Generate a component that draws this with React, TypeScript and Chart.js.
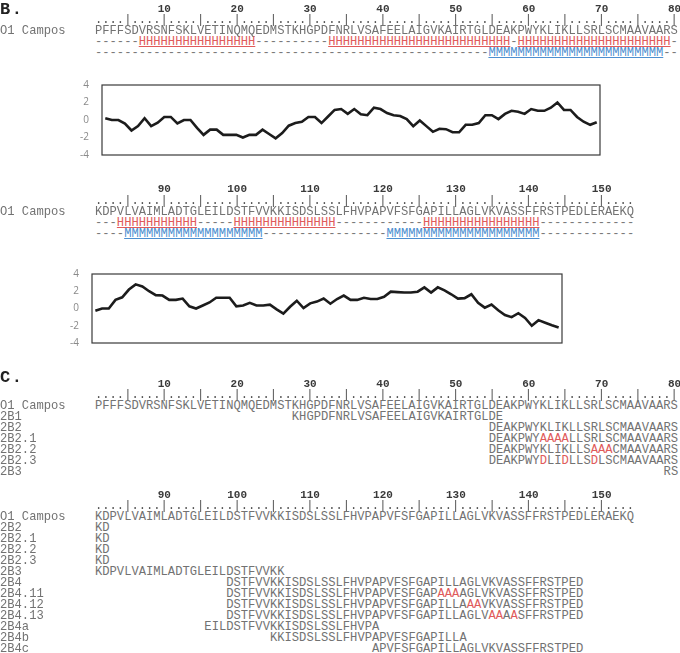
import React, { useEffect, useRef } from "react";
import { Chart, registerables } from "chart.js";
Chart.register(...registerables);

// ---------- data ----------
const SEQ1 = "PFFFSDVRSNFSKLVETINQMQEDMSTKHGPDFNRLVSAFEELAIGVKAIRTGLDEAKPWYKLIKLLSRLSCMAAVAARS";
const SEQ2 = "KDPVLVAIMLADTGLEILDSTFVVKKISDSLSSLFHVPAPVFSFGAPILLAGLVKVASSFFRSTPEDLERAEKQ";
const SEQ1_START = 1;
const SEQ2_START = 81;
const NUMS1 = [10, 20, 30, 40, 50, 60, 70, 80];
const NUMS2 = [90, 100, 110, 120, 130, 140, 150];

const HELIX1_RUNS: [string, number][] = [["-", 6], ["H", 16], ["-", 10], ["H", 25], ["-", 1], ["H", 21], ["-", 1]];
const MEMB1_RUNS: [string, number][] = [["-", 54], ["M", 24], ["-", 2]];
const HELIX2_RUNS: [string, number][] = [["-", 3], ["H", 11], ["-", 5], ["H", 14], ["-", 12], ["H", 16], ["-", 13]];
const MEMB2_RUNS: [string, number][] = [["-", 4], ["M", 19], ["-", 17], ["M", 21], ["-", 13]];

const HYDRO1 = [
  0.2, 0, 0, -0.4, -1.2, -0.7, 0.2, -0.7, -0.3, 0.35,
  0.35, -0.4, 0, 0, -0.9, -1.7, -1.1, -1.1, -1.7, -1.7,
  -1.7, -2.0, -1.7, -1.7, -1.1, -1.6, -2.1, -1.5, -0.65, -0.35,
  -0.2, 0.35, 0.35, -0.35, 0.4, 1.15, 1.25, 0.7, 1.25, 0.65,
  0.55, 1.4, 1.25, 0.8, 0.55, 0.45, 0.1, -0.7, -0.05, -0.7,
  -1.35, -1.0, -1.05, -1.4, -1.4, -0.55, -0.55, -0.35, 0.55, 0.55,
  0.1, 0.7, 1.05, 0.95, 0.7, 1.25, 1.05, 1.05, 1.4, 2.0,
  1.15, 1.15, 0.35, -0.2, -0.55, -0.25,
];
const HYDRO2 = [
  -0.25, 0, 0, 1.0, 1.3, 2.2, 2.8, 2.55, 2.0, 1.55,
  1.5, 1.0, 1.0, 1.15, 0.25, 0, 0.35, 0.7, 1.25, 1.25,
  1.25, 0.25, 0.35, 0.65, 0.35, 0.35, 0.45, -0.1, -0.6, 0.2,
  0.9, 0.05, 0.6, 0.8, 1.15, 0.55, 1.1, 1.5, 1.0, 1.0,
  1.25, 1.1, 1.1, 1.35, 1.95, 1.9, 1.85, 1.85, 1.95, 2.45,
  1.85, 2.45, 2.1, 1.65, 1.15, 1.2, 1.65, 0.65, 0.1, 0.45,
  -0.2, -0.75, -1.0, -0.55, -1.1, -2.0, -1.35, -1.65, -1.95, -2.2,
];
const Y_MIN = -4;
const Y_MAX = 4;
const Y_STEP = 2;

const C1_NAMES = ["O1 Campos", "2B1", "2B2", "2B2.1", "2B2.2", "2B2.3", "2B3"];
const C1_STARTS = [1, 28, 55, 55, 55, 55, 79];
const C1_SEQS = [
  SEQ1,
  "KHGPDFNRLVSAFEELAIGVKAIRTGLDE",
  "DEAKPWYKLIKLLSRLSCMAAVAARS",
  "DEAKPWYAAAALLSRLSCMAAVAARS",
  "DEAKPWYKLIKLLSAAACMAAVAARS",
  "DEAKPWYDLIDLLSDLSCMAAVAARS",
  "RS",
];
const C1_RED: number[][] = [[], [], [], [7, 8, 9, 10], [14, 15, 16], [7, 10, 14], []];

const C2_NAMES = ["O1 Campos", "2B2", "2B2.1", "2B2.2", "2B2.3", "2B3", "2B4", "2B4.11", "2B4.12", "2B4.13", "2B4a", "2B4b", "2B4c"];
const C2_STARTS = [81, 81, 81, 81, 81, 81, 99, 99, 99, 99, 96, 105, 119];
const C2_SEQS = [
  SEQ2,
  "KD",
  "KD",
  "KD",
  "KD",
  "KDPVLVAIMLADTGLEILDSTFVVKK",
  "DSTFVVKKISDSLSSLFHVPAPVFSFGAPILLAGLVKVASSFFRSTPED",
  "DSTFVVKKISDSLSSLFHVPAPVFSFGAPAAAAGLVKVASSFFRSTPED",
  "DSTFVVKKISDSLSSLFHVPAPVFSFGAPILLAAAVKVASSFFRSTPED",
  "DSTFVVKKISDSLSSLFHVPAPVFSFGAPILLAGLVAAAASFFRSTPED",
  "EILDSTFVVKKISDSLSSLFHVPA",
  "KKISDSLSSLFHVPAPVFSFGAPILLA",
  "APVFSFGAPILLAGLVKVASSFFRSTPED",
];
const C2_RED: number[][] = [[], [], [], [], [], [], [], [29, 30, 31], [33, 34], [36, 37, 39], [], [], []];

// ---------- layout ----------
const CW = 7.29;
const FS = CW / 0.6;
const SEQ_X = 95;
const DY = 1;
const MONO = '"Liberation Mono", "DejaVu Sans Mono", monospace';
const GREY = "#727272";
const RED = "#e05a5a";
const BLUE = "#4d8fd0";
const GRAY_ONLY = { filter: "grayscale(1)" };

function Row({ x, y, children, style }: any) {
  return (
    <div
      style={{
        position: "absolute",
        left: x,
        top: y - 6.5 + DY,
        lineHeight: "13px",
        whiteSpace: "pre",
        fontFamily: MONO,
        fontSize: FS,
        color: GREY,
        ...style,
      }}
    >
      {children}
    </div>
  );
}

function Numbers({ y, nums, first }: { y: number; nums: number[]; first: number }) {
  return (
    <>
      {nums.map((n) => {
        const cx = SEQ_X + (n - first + 0.5) * CW;
        return (
          <div
            key={n}
            style={{
              position: "absolute",
              left: cx - 20,
              width: 40,
              top: y - 6.5 + DY,
              lineHeight: "13px",
              textAlign: "center",
              fontFamily: MONO,
              fontWeight: "bold",
              fontSize: 11,
              color: "#3a3a3a",
              ...GRAY_ONLY,
            }}
          >
            {n}
          </div>
        );
      })}
    </>
  );
}

function Ruler({ y, len }: { y: number; len: number }) {
  let s = "";
  for (let i = 1; i <= len; i++) s += i % 5 === 0 ? "|" : ".";
  return <Row x={SEQ_X} y={y} style={{ color: "#555", ...GRAY_ONLY }}>{s}</Row>;
}

function Runs({ y, runs }: { y: number; runs: [string, number][] }) {
  return (
    <Row x={SEQ_X} y={y}>
      {runs.map(([c, n], i) => {
        const txt = c.repeat(n);
        if (c === "H") return <span key={i} style={{ color: RED, textDecoration: "underline" }}>{txt}</span>;
        if (c === "M") return <span key={i} style={{ color: BLUE, textDecoration: "underline" }}>{txt}</span>;
        return <span key={i} style={{ color: "#7a7a7a" }}>{txt}</span>;
      })}
    </Row>
  );
}

function SeqText({ seq, red }: { seq: string; red: number[] }) {
  const parts: any[] = [];
  let i = 0;
  while (i < seq.length) {
    const isRed = red.includes(i);
    let j = i;
    while (j < seq.length && red.includes(j) === isRed) j++;
    parts.push(
      <span key={i} style={{ color: isRed ? RED : GREY }}>{seq.slice(i, j)}</span>
    );
    i = j;
  }
  return <>{parts}</>;
}

function Label({ y, text }: { y: number; text: string }) {
  return <Row x={0} y={y} style={GRAY_ONLY}>{text}</Row>;
}

function Header({ y, text }: { y: number; text: string }) {
  return (
    <div
      style={{
        position: "absolute",
        left: 0,
        top: y - 9,
        lineHeight: "18px",
        fontFamily: MONO,
        fontWeight: "bold",
        fontSize: 17,
        letterSpacing: 1.5,
        color: "#222",
        ...GRAY_ONLY,
      }}
    >
      {text}
    </div>
  );
}

const boxPlugin = {
  id: "plotBox",
  beforeDatasetsDraw(chart: any) {
    const { ctx, chartArea } = chart;
    ctx.save();
    ctx.strokeStyle = "#3a3a3a";
    ctx.lineWidth = 1.2;
    ctx.strokeRect(chartArea.left, chartArea.top, chartArea.right - chartArea.left, chartArea.bottom - chartArea.top);
    ctx.restore();
  },
};

function HydroChart({ values, x0, y0, x1, y1 }: { values: number[]; x0: number; y0: number; x1: number; y1: number }) {
  const ref = useRef<HTMLCanvasElement>(null);
  const AXW = 22, PT = 8, PB = 9, PR = 5;
  const left = x0 - AXW;
  const top = y0 - PT;
  const w = x1 - x0 + AXW + PR;
  const h = y1 - y0 + PT + PB;
  useEffect(() => {
    const chart = new Chart(ref.current as HTMLCanvasElement, {
      type: "line",
      data: {
        labels: values.map((_, i) => String(i + 1)),
        datasets: [
          {
            data: values,
            borderColor: "#1c1c1c",
            borderWidth: 2.6,
            pointRadius: 0,
            tension: 0,
            fill: false,
          },
        ],
      },
      options: {
        animation: false,
        responsive: false,
        maintainAspectRatio: false,
        layout: { padding: { top: PT, bottom: PB, right: PR, left: 0 } },
        plugins: { legend: { display: false }, tooltip: { enabled: false } },
        scales: {
          x: { type: "category", display: false, offset: true },
          y: {
            min: Y_MIN,
            max: Y_MAX,
            ticks: {
              stepSize: Y_STEP,
              color: "#8a8a8a",
              padding: 5,
              font: { family: '"Open Sans", sans-serif', size: 10 },
            },
            grid: { display: false },
            border: { display: false },
            afterFit: (s: any) => {
              s.width = AXW;
            },
          },
        },
      },
      plugins: [boxPlugin],
    } as any);
    return () => chart.destroy();
  }, []);
  return (
    <canvas
      ref={ref}
      width={w}
      height={h}
      style={{ position: "absolute", left, top, width: w, height: h }}
    />
  );
}

export default function App() {
  const c1y = 405;
  const c1step = 11.05;
  const c2y = 516;
  const c2step = 11.08;
  return (
    <div style={{ position: "absolute", left: 0, top: 0, width: 680, height: 653, overflow: "hidden", background: "#fff" }}>
      {/* B */}
      <Header y={9.5} text="B." />
      <Numbers y={8} nums={NUMS1} first={SEQ1_START} />
      <Ruler y={19} len={SEQ1.length} />
      <Label y={30} text="O1 Campos" />
      <Row x={SEQ_X} y={30} style={GRAY_ONLY}>{SEQ1}</Row>
      <Runs y={41} runs={HELIX1_RUNS} />
      <Runs y={52} runs={MEMB1_RUNS} />
      <HydroChart values={HYDRO1} x0={102} y0={82} x1={600} y1={157} />

      <Numbers y={188} nums={NUMS2} first={SEQ2_START} />
      <Ruler y={200} len={SEQ2.length} />
      <Label y={211} text="O1 Campos" />
      <Row x={SEQ_X} y={211} style={GRAY_ONLY}>{SEQ2}</Row>
      <Runs y={222} runs={HELIX2_RUNS} />
      <Runs y={233} runs={MEMB2_RUNS} />
      <HydroChart values={HYDRO2} x0={92} y0={271} x1={562} y1={345} />

      {/* C */}
      <Header y={378} text="C." />
      <Numbers y={383} nums={NUMS1} first={SEQ1_START} />
      <Ruler y={394} len={SEQ1.length} />
      {C1_NAMES.map((n, i) => (
        <React.Fragment key={"c1" + i}>
          <Label y={c1y + i * c1step} text={n} />
          <Row x={SEQ_X + (C1_STARTS[i] - SEQ1_START) * CW} y={c1y + i * c1step}>
            <SeqText seq={C1_SEQS[i]} red={C1_RED[i]} />
          </Row>
        </React.Fragment>
      ))}

      <Numbers y={494} nums={NUMS2} first={SEQ2_START} />
      <Ruler y={505} len={SEQ2.length} />
      {C2_NAMES.map((n, i) => (
        <React.Fragment key={"c2" + i}>
          <Label y={c2y + i * c2step} text={n} />
          <Row x={SEQ_X + (C2_STARTS[i] - SEQ2_START) * CW} y={c2y + i * c2step}>
            <SeqText seq={C2_SEQS[i]} red={C2_RED[i]} />
          </Row>
        </React.Fragment>
      ))}
    </div>
  );
}
